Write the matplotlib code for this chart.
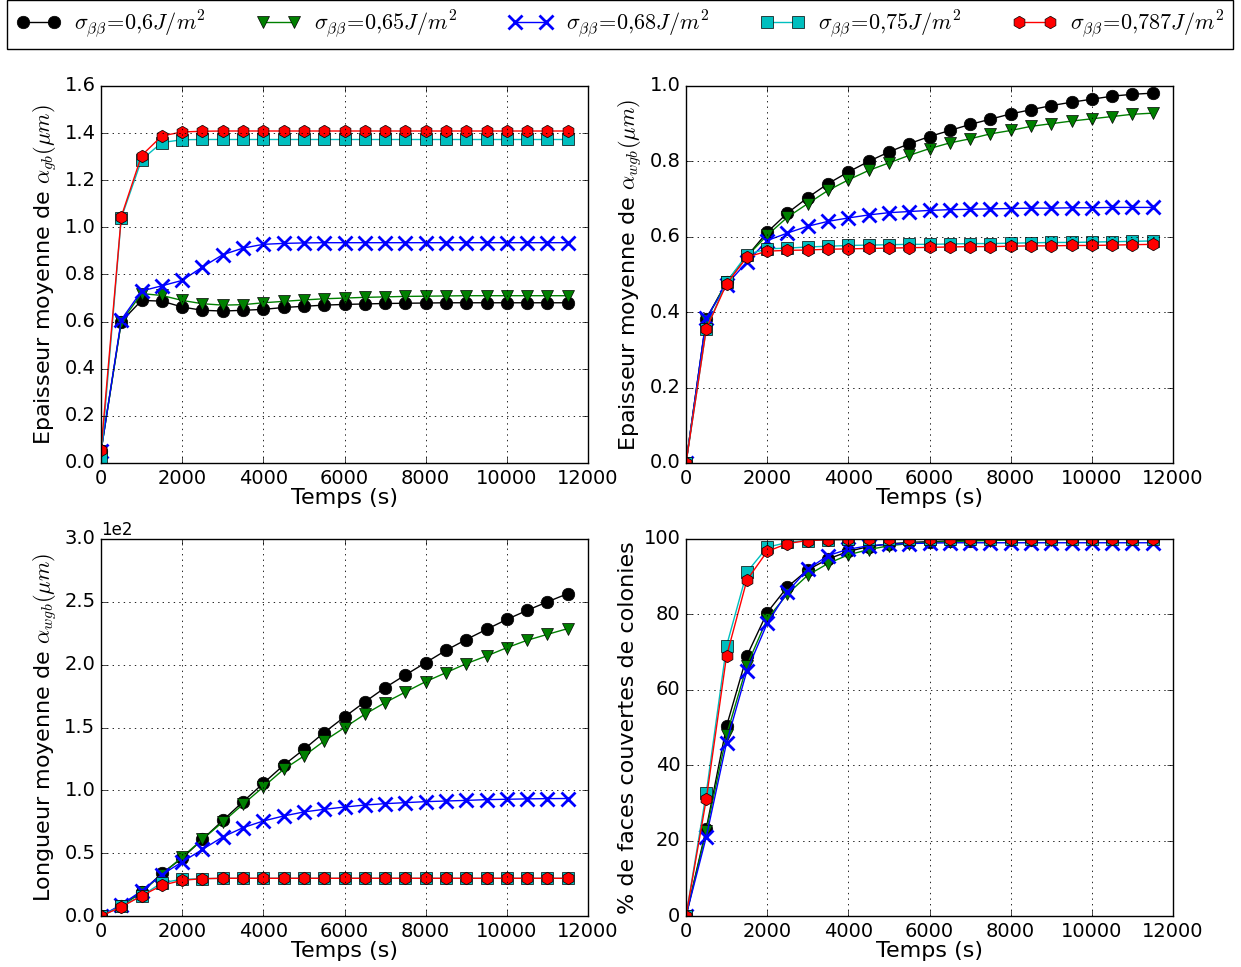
import matplotlib
matplotlib.use('Agg')
import matplotlib.pyplot as plt

plt.style.use('classic')
plt.rcParams['figure.facecolor'] = 'white'
plt.rcParams['savefig.facecolor'] = 'white'
plt.rcParams['font.size'] = 14
plt.rcParams['axes.labelsize'] = 16
plt.rcParams['mathtext.fontset'] = 'cm'

temps = [0, 500, 1000, 1500, 2000, 2500, 3000, 3500, 4000, 4500, 5000, 5500,
         6000, 6500, 7000, 7500, 8000, 8500, 9000, 9500, 10000, 10500, 11000, 11500]

labels = [r'$\sigma_{\beta\beta}\!=\!0{,}6J/m^2$',
          r'$\sigma_{\beta\beta}\!=\!0{,}65J/m^2$',
          r'$\sigma_{\beta\beta}\!=\!0{,}68J/m^2$',
          r'$\sigma_{\beta\beta}\!=\!0{,}75J/m^2$',
          r'$\sigma_{\beta\beta}\!=\!0{,}787J/m^2$']

# epaisseur alpha_gb (um)
ep_gb_06 = [0.05, 0.60, 0.69, 0.687, 0.662, 0.648, 0.645, 0.648, 0.652, 0.660, 0.665, 0.670,
            0.673, 0.675, 0.677, 0.678, 0.679, 0.680, 0.680, 0.680, 0.680, 0.680, 0.680, 0.680]
ep_gb_065 = [0.05, 0.60, 0.719, 0.711, 0.690, 0.676, 0.670, 0.672, 0.680, 0.686, 0.692, 0.697,
             0.700, 0.703, 0.705, 0.707, 0.708, 0.709, 0.710, 0.710, 0.710, 0.710, 0.710, 0.710]
ep_gb_068 = [0.05, 0.608, 0.73, 0.752, 0.775, 0.832, 0.884, 0.912, 0.928, 0.932, 0.934, 0.935,
             0.935, 0.935, 0.935, 0.935, 0.935, 0.935, 0.935, 0.935, 0.935, 0.935, 0.935, 0.935]
ep_gb_075 = [0.02, 1.04, 1.287, 1.36, 1.372, 1.373, 1.373, 1.373, 1.373, 1.373, 1.373, 1.373,
             1.373, 1.373, 1.373, 1.373, 1.373, 1.373, 1.373, 1.373, 1.373, 1.373, 1.373, 1.373]
ep_gb_0787 = [0.054, 1.046, 1.305, 1.388, 1.405, 1.408, 1.409, 1.409, 1.409, 1.409, 1.409, 1.409,
              1.409, 1.409, 1.409, 1.409, 1.409, 1.409, 1.409, 1.409, 1.409, 1.409, 1.409, 1.409]

# epaisseur alpha_wgb (um)
ep_wgb_06 = [0, 0.382, 0.48, 0.548, 0.612, 0.663, 0.704, 0.741, 0.772, 0.80, 0.825, 0.847,
             0.866, 0.882, 0.898, 0.912, 0.926, 0.937, 0.948, 0.957, 0.965, 0.973, 0.978, 0.981]
ep_wgb_065 = [0, 0.38, 0.48, 0.548, 0.604, 0.652, 0.688, 0.723, 0.751, 0.776, 0.796, 0.816,
              0.834, 0.849, 0.860, 0.873, 0.882, 0.893, 0.900, 0.907, 0.913, 0.919, 0.925, 0.928]
ep_wgb_068 = [0, 0.385, 0.473, 0.533, 0.59, 0.61, 0.628, 0.641, 0.65, 0.658, 0.664, 0.667,
              0.67, 0.672, 0.673, 0.674, 0.675, 0.676, 0.676, 0.677, 0.677, 0.678, 0.678, 0.678]
ep_wgb_075 = [0, 0.356, 0.48, 0.553, 0.568, 0.570, 0.573, 0.575, 0.577, 0.578, 0.579, 0.580,
              0.580, 0.581, 0.582, 0.582, 0.583, 0.584, 0.585, 0.585, 0.586, 0.587, 0.588, 0.589]
ep_wgb_0787 = [0, 0.356, 0.475, 0.546, 0.562, 0.564, 0.565, 0.567, 0.568, 0.569, 0.570, 0.571,
               0.572, 0.573, 0.574, 0.574, 0.575, 0.576, 0.576, 0.577, 0.577, 0.578, 0.579, 0.580]

# longueur alpha_wgb (um)
lg_wgb_06 = [0, 8, 19, 34, 46, 61, 76, 91, 105.6, 120, 132.6, 146,
             158.4, 170.3, 181.7, 191.8, 201.6, 211.4, 220, 228.1, 236, 243.2, 250, 256.5]
lg_wgb_065 = [0, 8, 19, 33, 47, 61, 74.8, 88.9, 102.7, 116.7, 127.3, 139.3,
              149.9, 160.5, 169.8, 178.2, 186.5, 193.6, 200.8, 206.9, 213.5, 219.4, 224.1, 228.7]
lg_wgb_068 = [0, 9, 20, 33, 43, 53, 62.9, 70.3, 75.6, 79.6, 82.8, 84.9,
              86.7, 88.3, 89.4, 90.2, 91, 91.5, 92, 92.6, 92.9, 93.2, 93.4, 93.5]
lg_wgb_075 = [0, 8, 16, 26.5, 29.2, 29.7, 30, 30, 30, 30, 30, 30,
              30, 30, 30, 30, 30, 30, 30, 30, 30, 30, 30, 30]
lg_wgb_0787 = [0, 7.2, 16, 24.4, 28.4, 29.7, 30, 30, 30, 30, 30, 30,
               30, 30, 30, 30, 30, 30, 30, 30, 30, 30, 30, 30]

# % de faces couvertes
fc_06 = [0, 23.2, 50.4, 69, 80.5, 87.3, 91.8, 94.7, 96.7, 98, 98.7, 99.1,
         99.3, 99.5, 99.6, 99.7, 99.8, 99.8, 99.9, 99.9, 99.9, 100, 100, 100]
fc_065 = [0, 22.5, 48, 66.4, 78.8, 85.4, 90.4, 93.5, 95.8, 97.2, 98.2, 98.8,
          99.1, 99.3, 99.5, 99.6, 99.7, 99.8, 99.8, 99.9, 99.9, 99.9, 100, 100]
fc_068 = [0, 21, 46, 65, 77.6, 86, 92, 95.6, 97.3, 98.2, 98.6, 98.8,
          98.9, 99, 99, 99, 99, 99, 99, 99, 99, 99, 99, 99]
fc_075 = [0, 32.7, 71.7, 91.2, 97.8, 99.1, 99.6, 99.8, 99.9, 100, 100, 100,
          100, 100, 100, 100, 100, 100, 100, 100, 100, 100, 100, 100]
fc_0787 = [0, 31, 69, 89.1, 96.7, 98.8, 99.6, 99.8, 99.9, 100, 100, 100,
           100, 100, 100, 100, 100, 100, 100, 100, 100, 100, 100, 100]

styles = [
    dict(color='k', marker='o', mfc='k', mec='k', ms=9),
    dict(color=(0, 0.5, 0), marker='v', mfc=(0, 0.5, 0), mec='k', ms=9),
    dict(color='b', marker='x', mec='b', ms=10, mew=2),
    dict(color=(0, 0.75, 0.75), marker='s', mfc=(0, 0.75, 0.75), mec='k', ms=8),
    dict(color='r', marker='h', mfc='r', mec='k', ms=9),
]

panels = [
    ([ep_gb_06, ep_gb_065, ep_gb_068, ep_gb_075, ep_gb_0787],
     r'Epaisseur moyenne de $\alpha_{gb}(\mu m)$', (0, 1.6), [0, 0.2, 0.4, 0.6, 0.8, 1.0, 1.2, 1.4, 1.6]),
    ([ep_wgb_06, ep_wgb_065, ep_wgb_068, ep_wgb_075, ep_wgb_0787],
     r'Epaisseur moyenne de $\alpha_{wgb}(\mu m)$', (0, 1.0), [0, 0.2, 0.4, 0.6, 0.8, 1.0]),
    ([lg_wgb_06, lg_wgb_065, lg_wgb_068, lg_wgb_075, lg_wgb_0787],
     r'Longueur moyenne de $\alpha_{wgb}(\mu m)$', (0, 300), [0, 50, 100, 150, 200, 250, 300]),
    ([fc_06, fc_065, fc_068, fc_075, fc_0787],
     '% de faces couvertes de colonies', (0, 100), [0, 20, 40, 60, 80, 100]),
]

W, H = 1241, 967
fig = plt.figure(figsize=(W / 100, H / 100), dpi=100)
boxes = [(101, 86), (686, 86), (101, 539), (686, 539)]
aw, ah = 487, 377

handles = []
for i, (series, ylab, ylim, yticks) in enumerate(panels):
    x0, y0 = boxes[i]
    ax = fig.add_axes([x0 / W, 1 - (y0 + ah) / H, aw / W, ah / H])
    for j, s in enumerate(series):
        ln, = ax.plot(temps, s, lw=1, label=labels[j], **styles[j])
        if i == 0:
            handles.append(ln)
    ax.set_xlim(0, 12000)
    ax.set_xticks([0, 2000, 4000, 6000, 8000, 10000, 12000])
    ax.set_ylim(*ylim)
    ax.set_yticks(yticks)
    ax.grid(True, color='k', linestyle=':', linewidth=0.6)
    ax.set_xlabel('Temps (s)', labelpad=0)
    ax.set_ylabel(ylab, labelpad=4)
    if i == 2:
        ax.ticklabel_format(axis='y', style='sci', scilimits=(0, 0))
        ax.yaxis.get_offset_text().set_fontsize(12)

fig.legend(handles, labels, loc='lower left',
           bbox_to_anchor=(7 / W, 1 - 49 / H, 1226 / W, 46 / H),
           mode='expand', ncol=5, numpoints=2, fancybox=False,
           handlelength=2.0, handletextpad=0.6, borderaxespad=0, fontsize=16,
           frameon=True, edgecolor='k')

fig.savefig('out.png', dpi=100)
